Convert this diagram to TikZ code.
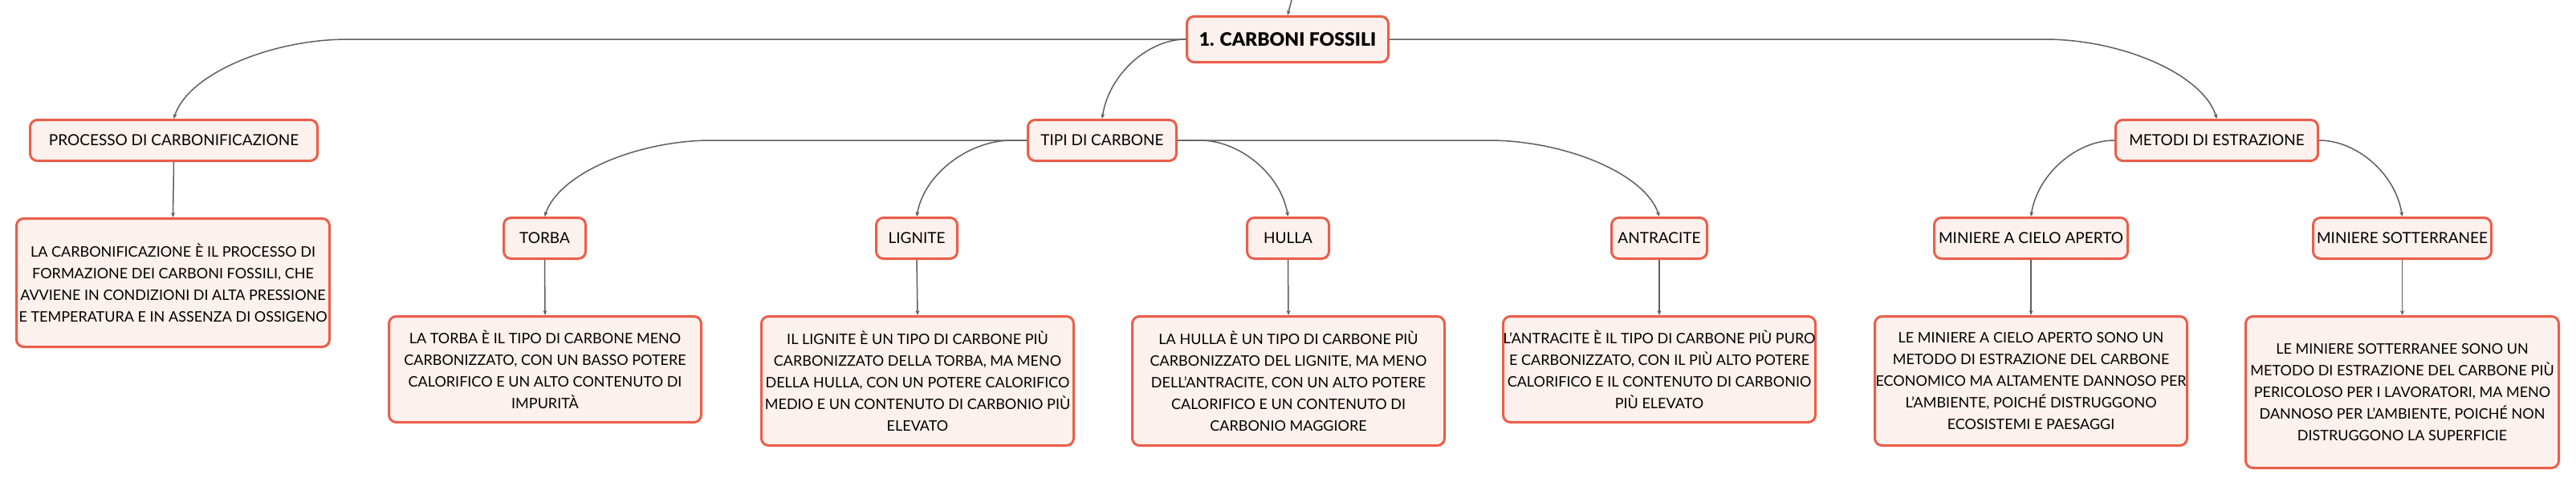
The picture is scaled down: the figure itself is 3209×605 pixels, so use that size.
\documentclass[tikz,border=0pt]{standalone}
\usepackage{fontspec}
\setmainfont{Lato}
\newfontfamily\rootfont{Lato Black}
\usetikzlibrary{arrows.meta,calc}
\definecolor{boxred}{RGB}{234,94,74}
\definecolor{boxfill}{RGB}{253,241,237}
\definecolor{linegrey}{RGB}{95,95,95}
\begin{document}
\begin{tikzpicture}[x=1pt,y=-1pt,
  box/.style={draw=boxred, fill=boxfill, line width=3pt, rounded corners=9pt,
    inner sep=0pt, align=center, text=black, font=\fontsize{19}{27}\selectfont},
  title/.style={box, minimum height=51pt},
  desc/.style={box, minimum width=389pt, font=\fontsize{18}{27}\selectfont},
  conn/.style={draw=linegrey, line width=1.5pt, -{Stealth[length=6pt,width=5pt]}},
]
\useasboundingbox (0,0) rectangle (3209,605);
\fill[white] (0,0) rectangle (3209,605);

% nodes
\node[box, minimum width=251pt, minimum height=57pt, font=\fontsize{23}{28}\selectfont\rootfont] (root) at (1604,49) {1. CARBONI FOSSILI};
\node[title, minimum width=358pt] (proc) at (216.5,175) {PROCESSO DI CARBONIFICAZIONE};
\node[title, minimum width=185pt] (tipi) at (1373,175) {TIPI DI CARBONE};
\node[title, minimum width=252pt] (metodi) at (2761.5,175) {METODI DI ESTRAZIONE};

\node[title, minimum width=102pt] (torba) at (678.5,297) {TORBA};
\node[title, minimum width=101pt] (lignite) at (1142,297) {LIGNITE};
\node[title, minimum width=102pt] (hulla) at (1604.5,297) {HULLA};
\node[title, minimum width=119pt] (antracite) at (2067,297) {ANTRACITE};
\node[title, minimum width=241pt] (cielo) at (2530,297) {MINIERE A CIELO APERTO};
\node[title, minimum width=222pt] (sott) at (2992.5,297) {MINIERE SOTTERRANEE};

\node[desc, minimum width=390pt, minimum height=160pt] (procd) at (215.5,352.5) {LA CARBONIFICAZIONE È IL PROCESSO DI\\FORMAZIONE DEI CARBONI FOSSILI, CHE\\AVVIENE IN CONDIZIONI DI ALTA PRESSIONE\\E TEMPERATURA E IN ASSENZA DI OSSIGENO};
\node[desc, minimum height=132pt] (torbad) at (679,460.5) {LA TORBA È IL TIPO DI CARBONE MENO\\CARBONIZZATO, CON UN BASSO POTERE\\CALORIFICO E UN ALTO CONTENUTO DI\\IMPURITÀ};
\node[desc, minimum height=161pt] (lignited) at (1143,475) {IL LIGNITE È UN TIPO DI CARBONE PIÙ\\CARBONIZZATO DELLA TORBA, MA MENO\\DELLA HULLA, CON UN POTERE CALORIFICO\\MEDIO E UN CONTENUTO DI CARBONIO PIÙ\\ELEVATO};
\node[desc, minimum height=161pt] (hullad) at (1605,475) {LA HULLA È UN TIPO DI CARBONE PIÙ\\CARBONIZZATO DEL LIGNITE, MA MENO\\DELL'ANTRACITE, CON UN ALTO POTERE\\CALORIFICO E UN CONTENUTO DI\\CARBONIO MAGGIORE};
\node[desc, minimum height=132pt] (antracited) at (2067,460.5) {L'ANTRACITE È IL TIPO DI CARBONE PIÙ PURO\\E CARBONIZZATO, CON IL PIÙ ALTO POTERE\\CALORIFICO E IL CONTENUTO DI CARBONIO\\PIÙ ELEVATO};
\node[desc, minimum height=161pt] (cielod) at (2530,475) {LE MINIERE A CIELO APERTO SONO UN\\METODO DI ESTRAZIONE DEL CARBONE\\ECONOMICO MA ALTAMENTE DANNOSO PER\\L'AMBIENTE, POICHÉ DISTRUGGONO\\ECOSISTEMI E PAESAGGI};
\node[desc, minimum width=390pt, minimum height=189pt] (sottd) at (2992.5,489) {LE MINIERE SOTTERRANEE SONO UN\\METODO DI ESTRAZIONE DEL CARBONE PIÙ\\PERICOLOSO PER I LAVORATORI, MA MENO\\DANNOSO PER L'AMBIENTE, POICHÉ NON\\DISTRUGGONO LA SUPERFICIE};

% free ends and bend points
\coordinate (top) at (1609,0);
\coordinate (kproc) at (434,49);
\coordinate (kmet) at (2547,49);
\coordinate (ktorba) at (887,175);
\coordinate (klig) at (1260,175);
\coordinate (khul) at (1495,175);
\coordinate (kant) at (1854,175);

% connectors
\draw[conn] (top) -- (root.north);
\draw[conn] (root.west) -- (kproc) .. controls ($(kproc)+(-98,0)$) and ($(proc.north)+(17,-55)$) .. (proc.north);
\draw[conn] (root.west) .. controls ($(root.west)+(-47,0)$) and ($(tipi.north)+(8,-55)$) .. (tipi.north);
\draw[conn] (root.east) -- (kmet) .. controls ($(kmet)+(97,0)$) and ($(metodi.north)+(-17,-55)$) .. (metodi.north);

\draw[conn] (tipi.west) -- (ktorba) .. controls ($(ktorba)+(-94,0)$) and ($(torba.north)+(17,-53)$) .. (torba.north);
\draw[conn] (tipi.west) -- (klig) .. controls ($(klig)+(-53,0)$) and ($(lignite.north)+(9,-53)$) .. (lignite.north);
\draw[conn] (tipi.east) -- (khul) .. controls ($(khul)+(49,0)$) and ($(hulla.north)+(-9,-53)$) .. (hulla.north);
\draw[conn] (tipi.east) -- (kant) .. controls ($(kant)+(96,0)$) and ($(antracite.north)+(-17,-53)$) .. (antracite.north);

\draw[conn] (metodi.west) .. controls ($(metodi.west)+(-47,0)$) and ($(cielo.north)+(8,-53)$) .. (cielo.north);
\draw[conn] (metodi.east) .. controls ($(metodi.east)+(47,0)$) and ($(sott.north)+(-8,-53)$) .. (sott.north);

\draw[conn] (proc.south) -- (procd.north);
\draw[conn] (torba.south) -- (torbad.north);
\draw[conn] (lignite.south) -- (lignited.north);
\draw[conn] (hulla.south) -- (hullad.north);
\draw[conn] (antracite.south) -- (antracited.north);
\draw[conn] (cielo.south) -- (cielod.north);
\draw[conn] (sott.south) -- (sottd.north);
\end{tikzpicture}
\end{document}
